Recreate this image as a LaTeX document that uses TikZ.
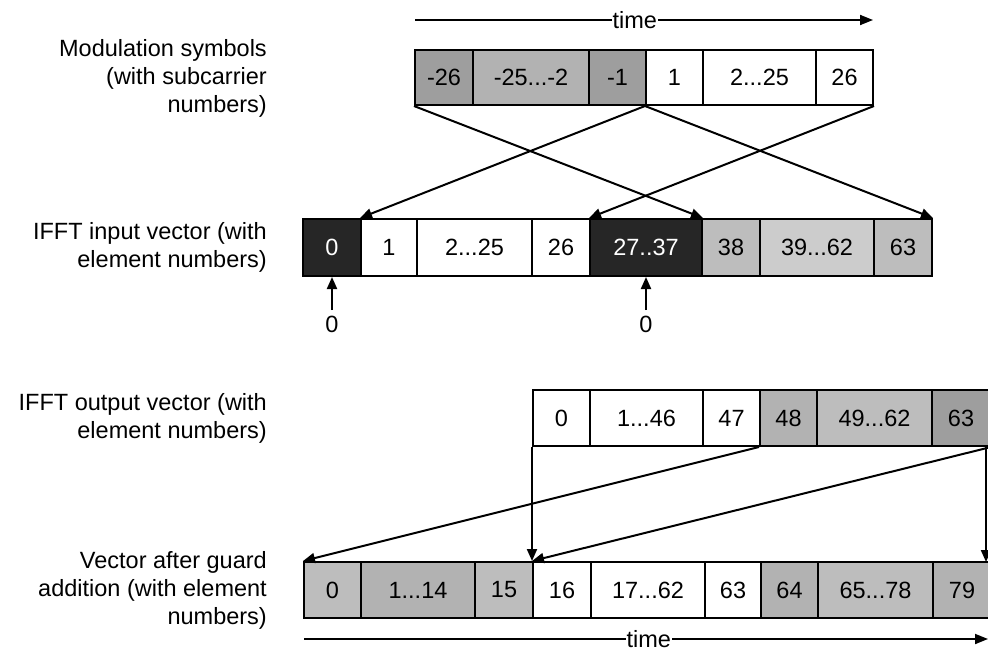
\documentclass[tikz,border=0pt]{standalone}
\usepackage{fontspec}
\setmainfont{Liberation Sans}
\usetikzlibrary{arrows.meta}
\definecolor{gmid}{gray}{0.62}
\definecolor{gmidl}{gray}{0.70}
\definecolor{gdark}{gray}{0.15}
\definecolor{glight}{gray}{0.74}
\definecolor{glighter}{gray}{0.80}
\begin{document}
\begin{tikzpicture}[x=1pt,y=-1pt,
  txt/.style={font=\fontsize{23.5}{28}\selectfont},
  cell/.style={txt,draw,line width=2pt,inner sep=0pt,anchor=center},
  r1/.style={cell,minimum height=55pt},
  r2/.style={cell,minimum height=57pt},
  r3/.style={cell,minimum height=56pt},
  r4/.style={cell,minimum height=56pt},
  lab/.style={txt,align=right,anchor=east,inner sep=0pt},
  arr/.style={-{Triangle[length=12pt,width=10pt]},line width=2pt},
  tarr/.style={-{Triangle[length=13pt,width=10pt]},line width=1.8pt},
  zero/.style={txt,inner sep=0pt,outer ysep=5.5pt}]
\useasboundingbox (0,0) rectangle (988,653);
\clip (0,0) rectangle (988,653);

% labels
\node[lab] (l1) at (267,78) {Modulation symbols\\(with subcarrier\\numbers)};
\node[lab] (l2) at (267,247.5) {IFFT input vector (with\\element numbers)};
\node[lab] (l3) at (267,418) {IFFT output vector (with\\element numbers)};
\node[lab] (l4) at (267,590) {Vector after guard\\addition (with element\\numbers)};

% time arrows
\coordinate (t1s) at (415,20);
\coordinate (t1e) at (873,20);
\draw[tarr] (t1s) -- (t1e) node[txt,pos=0.48,fill=white,inner sep=1pt] (t1) {time};
\coordinate (t2s) at (304,639);
\coordinate (t2e) at (988,639);
\draw[tarr] (t2s) -- (t2e) node[txt,pos=0.504,fill=white,inner xsep=1pt,inner ysep=0pt] (t2) {time};

% row 1: modulation symbols
\node[r1,fill=gmid,minimum width=58pt]  (m1) at (444,77.5) {-26};
\node[r1,fill=gmidl,minimum width=116pt] (m2) at (531,77.5) {-25...-2};
\node[r1,fill=gmid,minimum width=57pt]  (m3) at (617.5,77.5) {-1};
\node[r1,minimum width=57pt]  (m4) at (674.5,77.5) {1};
\node[r1,minimum width=113pt] (m5) at (759.5,77.5) {2...25};
\node[r1,minimum width=57pt]  (m6) at (844.5,77.5) {26};

% row 2: IFFT input
\node[r2,fill=gdark,text=white,minimum width=58pt] (a1) at (332,247.5) {0};
\node[r2,minimum width=56pt]  (a2) at (389,247.5) {1};
\node[r2,minimum width=115pt] (a3) at (474.5,247.5) {2...25};
\node[r2,minimum width=58pt]  (a4) at (561,247.5) {26};
\node[r2,fill=gdark,text=white,minimum width=112pt] (a5) at (646,247.5) {27..37};
\node[r2,fill=glight,minimum width=58pt]  (a6) at (731,247.5) {38};
\node[r2,fill=glighter,minimum width=114pt] (a7) at (817,247.5) {39...62};
\node[r2,fill=glight,minimum width=58pt]  (a8) at (903,247.5) {63};

% zero markers
\node[zero] (z1) at (332,324) {0};
\node[zero] (z2) at (646,324) {0};
\draw[arr] (z1) -- (a1.south);
\draw[arr] (z2) -- (a5.south);

% row 3: IFFT output
\node[r3,minimum width=57pt]  (b1) at (561.5,418) {0};
\node[r3,minimum width=113pt] (b2) at (646.5,418) {1...46};
\node[r3,minimum width=57pt]  (b3) at (731.5,418) {47};
\node[r3,fill=gmidl,minimum width=57pt]  (b4) at (788.5,418) {48};
\node[r3,fill=glight,minimum width=115pt] (b5) at (874.5,418) {49...62};
\node[r3,fill=gmid,minimum width=58pt]  (b6) at (961,418) {63};

% row 4: after guard addition
\node[r4,fill=glight,minimum width=57pt]  (c1) at (332.5,590) {0};
\node[r4,fill=gmidl,minimum width=114pt] (c2) at (418,590) {1...14};
\node[r4,fill=glight,minimum width=58pt]  (c3) at (504,590) {15};
\node[r4,minimum width=58pt]  (c4) at (562,590) {16};
\node[r4,minimum width=114pt] (c5) at (648,590) {17...62};
\node[r4,minimum width=56pt]  (c6) at (733,590) {63};
\node[r4,fill=gmidl,minimum width=57pt]  (c7) at (789.5,590) {64};
\node[r4,fill=glight,minimum width=115pt] (c8) at (875.5,590) {65...78};
\node[r4,fill=gmidl,minimum width=58pt]  (c9) at (962,590) {79};

% connectors row1 -> row2
\draw[arr] (m1.south west) -- (a5.north east);
\draw[arr] (m4.south west) -- (a2.north west);
\draw[arr] (m4.south west) -- (a8.north east);
\draw[arr] (m6.south east) -- (a5.north west);

% connectors row3 -> row4
\coordinate (rv1) at (986,446);
\coordinate (rv2) at (986,562);
\draw[arr] (b1.south west) -- (c4.north west);
\draw[arr] (b4.south west) -- (c1.north west);
\draw[arr] (b6.south east) -- (c4.north west);
\draw[arr] (rv1) -- (rv2);
\end{tikzpicture}
\end{document}
